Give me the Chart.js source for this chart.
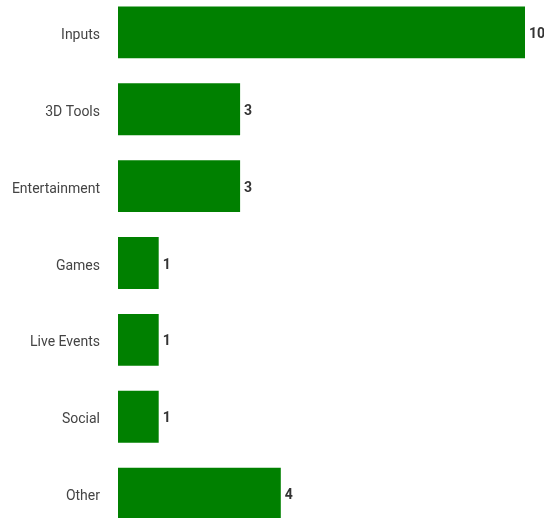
<!DOCTYPE html>
<html>
<head>
<meta charset="utf-8">
<script src="https://cdn.jsdelivr.net/npm/chart.js@4"></script>
<style>
  html, body { margin: 0; padding: 0; background: #fff; overflow: hidden; }
  #chart { position: absolute; left: 0; top: -6px; }
</style>
</head>
<body>
<canvas id="chart" width="544" height="538"></canvas>
<script>
// --- Data ---
const categories = ['Inputs', '3D Tools', 'Entertainment', 'Games', 'Live Events', 'Social', 'Other'];
const counts = [10, 3, 3, 1, 1, 1, 4];

const BAR_COLOR = '#008000';
const FONT = 'Roboto, "Liberation Sans", sans-serif';

// Value labels at the end of each bar
const valueLabels = {
    id: 'valueLabels',
    afterDatasetsDraw(chart) {
        const ctx = chart.ctx;
        const meta = chart.getDatasetMeta(0);
        ctx.save();
        ctx.font = 'bold 14px ' + FONT;
        ctx.fillStyle = '#333';
        ctx.textAlign = 'left';
        ctx.textBaseline = 'middle';
        meta.data.forEach((bar, i) => {
            ctx.fillText(String(counts[i]), bar.x + 4, bar.y + 2);
        });
        ctx.restore();
    }
};

const ctx = document.getElementById('chart').getContext('2d');
const chart = new Chart(ctx, {
    type: 'bar',
    data: {
        labels: categories,
        datasets: [{
            data: counts,
            backgroundColor: BAR_COLOR,
            borderWidth: 0,
            barPercentage: 0.9,
            categoryPercentage: 0.75
        }]
    },
    options: {
        indexAxis: 'y',
        responsive: false,
        animation: false,
        layout: { padding: { left: 0, right: 19, top: 0, bottom: 0 } },
        plugins: {
            legend: { display: false },
            tooltip: { enabled: false }
        },
        scales: {
            x: {
                display: false,
                min: 0,
                max: 10
            },
            y: {
                offset: true,
                grid: { display: false, drawTicks: false },
                border: { display: false },
                ticks: {
                    padding: 18,
                    labelOffset: 3,
                    color: '#444',
                    font: { family: FONT, size: 14 }
                },
                afterFit(scale) {
                    scale.width = 118;
                    scale.paddingTop = 0;
                    scale.paddingBottom = 0;
                }
            }
        }
    },
    plugins: [valueLabels]
});
</script>
</body>
</html>
